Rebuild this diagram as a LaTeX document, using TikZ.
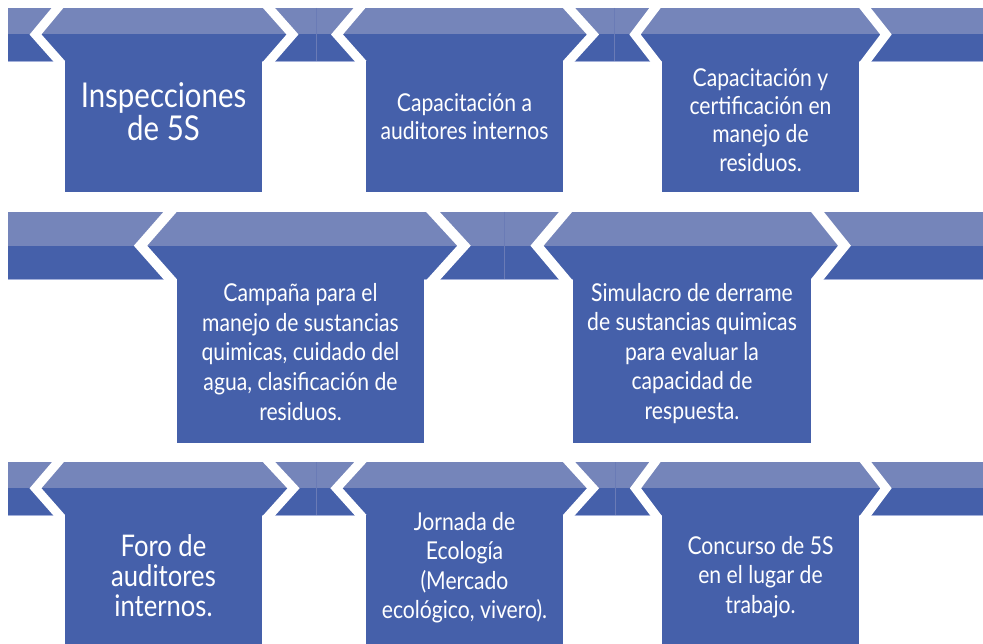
\documentclass[tikz,border=0pt]{standalone}
\usepackage{fontspec}
\setmainfont{Lato}[FakeStretch=0.86]
\definecolor{bandlight}{HTML}{7585BA}
\definecolor{banddark}{HTML}{4560AA}
\definecolor{bandline}{HTML}{A3B0DA}
\definecolor{segline}{HTML}{6A7BB6}
\tikzset{
  wstroke/.style={draw=white, line width=9, line join=miter, miter limit=10, shorten <=-9, shorten >=-9},
  wstrokeb/.style={wstroke, line width=10},
  itembox/.style={fill=banddark},
  itemtext/.style={text=white, align=center, inner sep=0pt, anchor=center},
  bottomline/.style={draw=bandline, line width=0.8},
  segment/.style={draw=segline, line width=0.7},
}
\begin{document}
\begin{tikzpicture}[x=1pt,y=-1pt]
\useasboundingbox[fill=white] (0,0) rectangle (983,644);
% ---------- bands ----------
\fill[bandlight] (8,8) rectangle (983,34.5);
\fill[banddark]  (8,34.5) rectangle (983,61);
\fill[bandlight] (8,212) rectangle (983,245.7);
\fill[banddark]  (8,245.7) rectangle (983,279);
\fill[bandlight] (8,462) rectangle (983,488.3);
\fill[banddark]  (8,488.3) rectangle (983,515);
\draw[bottomline] (8,61) -- (983,61);
\draw[bottomline] (8,279) -- (983,279);
\draw[bottomline] (8,515) -- (983,515);
\draw[segment] (316,8) -- (316,61);
\draw[segment] (614,8) -- (614,61);
\draw[segment] (504,212) -- (504,279);
\draw[segment] (316,462) -- (316,515);
\draw[segment] (615,462) -- (615,515);
% ---------- white chevron borders, row 1 ----------
\draw[wstroke] (57.5,8) -- (35.5,34.5) -- (59,61);
\draw[wstroke] (269,8) -- (292.5,34.5) -- (269.5,61);
\draw[wstroke] (359.5,8) -- (337,34.5) -- (360.5,61);
\draw[wstroke] (569,8) -- (593,34.5) -- (569,61);
\draw[wstroke] (655,8) -- (635,34.5) -- (655.5,61);
\draw[wstroke] (865,8) -- (886,34.5) -- (866,61);
% ---------- row 2 ----------
\draw[wstrokeb] (170,212) -- (140.5,245.7) -- (170,279);
\draw[wstrokeb] (433,212) -- (464,245.7) -- (434,279);
\draw[wstrokeb] (565.5,212) -- (537,245.7) -- (565,279);
\draw[wstrokeb] (817.5,212) -- (844.5,245.7) -- (817.5,279);
% ---------- row 3 ----------
\draw[wstroke] (58,462) -- (35.5,488.3) -- (59,515);
\draw[wstroke] (269,462) -- (293.5,488.3) -- (269.5,515);
\draw[wstroke] (360.5,462) -- (336.5,488.3) -- (360.5,515);
\draw[wstroke] (569,462) -- (593,488.3) -- (569,515);
\draw[wstroke] (655,462) -- (635.5,488.3) -- (655.5,515);
\draw[wstroke] (865.5,462) -- (886,488.3) -- (866,515);
% ---------- boxes ----------
\fill[itembox] (65,61) rectangle (262,192);
\fill[itembox] (366,61) rectangle (563,192);
\fill[itembox] (662,61) rectangle (859,192);
\fill[itembox] (177,279) rectangle (424,443);
\fill[itembox] (573,279) rectangle (811,443);
\fill[itembox] (65,515) rectangle (262,644);
\fill[itembox] (366,515) rectangle (563,644);
\fill[itembox] (662,515) rectangle (859,644);
% ---------- texts ----------
\node[itemtext, font=\fontsize{34.2}{33}\selectfont] (t1) at (163.5,112) {Inspecciones\\de 5S};
\node[itemtext, font=\fontsize{24.6}{28}\selectfont] (t2) at (464.5,116.5) {Capacitación a\\auditores internos};
\node[itemtext, font=\fontsize{24.6}{28.3}\selectfont] (t3) at (760.5,119.8) {Capacitación y\\certificación en\\manejo de\\residuos.};
\node[itemtext, font=\fontsize{24.6}{29.75}\selectfont] (t4) at (300.5,351.9) {Campaña para el\\manejo de sustancias\\quimicas, cuidado del\\agua, clasificación de\\residuos.};
\node[itemtext, font=\fontsize{24.6}{29.5}\selectfont] (t5) at (692,353.4) {Simulacro de derrame\\de sustancias quimicas\\para evaluar la\\capacidad de\\respuesta.};
\node[itemtext, font=\fontsize{29.8}{29.85}\selectfont] (t7) at (163.5,575.4) {Foro de\\auditores\\internos.};
\node[itemtext, font=\fontsize{24.6}{29.3}\selectfont] (t8) at (464.5,567.8) {Jornada de\\Ecología\\(Mercado\\ecológico, vivero).};
\node[itemtext, font=\fontsize{24.6}{29.5}\selectfont] (t9) at (760.5,576.9) {Concurso de 5S\\en el lugar de\\trabajo.};
\end{tikzpicture}
\end{document}
